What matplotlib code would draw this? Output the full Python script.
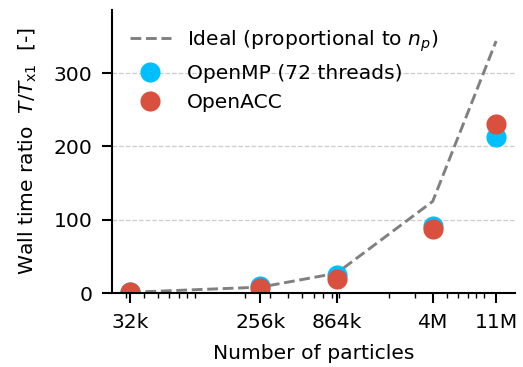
import matplotlib
matplotlib.use("Agg")
import matplotlib.pyplot as plt

n_particles = [32e3, 256e3, 864e3, 4e6, 11e6]
tick_labels = ["32k", "256k", "864k", "4M", "11M"]
ideal = [n / n_particles[0] for n in n_particles]
openmp = [1.0, 9.5, 24.5, 91, 213]
openacc = [1.0, 6.4, 18.7, 87, 230]

plt.rcParams["font.size"] = 14.6
fig = plt.figure(figsize=(5.23, 3.67), dpi=100)
ax = fig.add_axes([0.214, 0.2016, 0.771, 0.771])

ax.plot(n_particles, ideal, "--", color="gray", lw=2.1,
        label="Ideal (proportional to $n_p$)")
ax.plot(n_particles, openmp, "o", color="#00bfff", ms=14.5, mew=0,
        label="OpenMP (72 threads)")
ax.plot(n_particles, openacc, "o", color="#d9503f", ms=14.5, mew=0,
        label="OpenACC")

ax.set_xscale("log")
ax.set_xticks(n_particles)
ax.set_xticklabels(tick_labels)
ax.set_xlim(24e3, 14.9e6)
ax.set_ylim(0, 386)
ax.set_yticks([0, 100, 200, 300])
ax.grid(axis="y", ls="--", color="#cccccc", lw=0.9)
ax.set_axisbelow(True)
for s in ("top", "right"):
    ax.spines[s].set_visible(False)
for s in ("left", "bottom"):
    ax.spines[s].set_linewidth(1.5)
ax.tick_params(which="major", length=7.2, width=1.5, pad=7)
ax.tick_params(which="minor", length=3.6, width=1.0)

ax.set_xlabel("Number of particles", labelpad=9)
ax.set_ylabel(r"Wall time ratio  $T/T_{\rm x1}$  [-]", labelpad=10)
ax.legend(loc="upper left", frameon=False)

fig.savefig("out.png", dpi=100)
